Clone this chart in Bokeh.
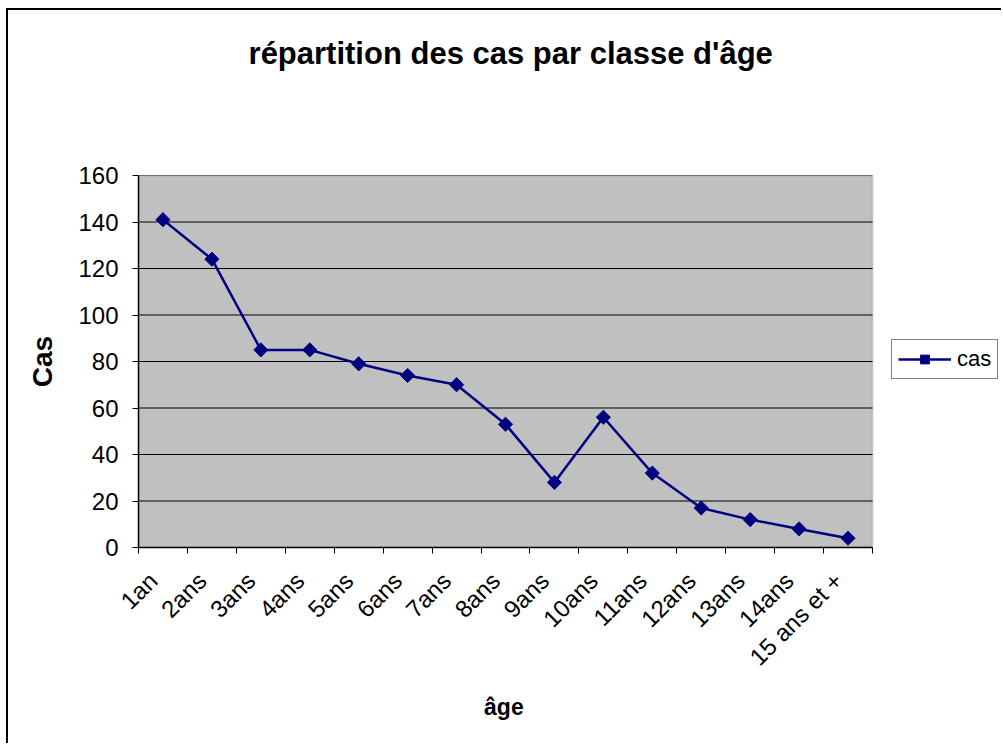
import math
from bokeh.plotting import figure
from bokeh.models import (Range1d, LinearAxis, FixedTicker, BoxAnnotation,
                          Legend, LegendItem)
from bokeh.embed import file_html
from bokeh.resources import INLINE

categories = ["1an", "2ans", "3ans", "4ans", "5ans", "6ans", "7ans", "8ans", "9ans",
              "10ans", "11ans", "12ans", "13ans", "14ans", "15 ans et +"]
cas = [141, 124, 85, 85, 79, 74, 70, 53, 28, 56, 32, 17, 12, 8, 4]
y_ticks = [0, 20, 40, 60, 80, 100, 120, 140, 160]
title_text = "répartition des cas par classe d'âge"
x_title = "âge"
y_title = "Cas"
series_name = "cas"

FONT = "Liberation Sans"
NAVY = "#000080"
LABEL_SHIFT = -0.2   # small layout nudge of rotated category labels
NBSP = "\u00a0"      # trailing padding to centre labels on the grey area, not the whole frame

# layout (pixels)
FIG_W, FIG_H = 995, 735
B_LEFT, B_TOP, B_BOTTOM = 130, 165, 198
AREA_W = 734                       # width of the grey plotting area
FRAME_W = FIG_W - B_LEFT           # frame runs to the right edge (legend lives inside it)

n = len(categories)
x_centers = [i + 0.5 for i in range(n)]       # category slot centres
x_edges = list(range(n + 1))                   # category slot boundaries
label_pos = [c + LABEL_SHIFT for c in x_centers]

p = figure(width=FIG_W, height=FIG_H,
           x_range=Range1d(0, n * FRAME_W / AREA_W),
           y_range=Range1d(y_ticks[0], y_ticks[-1]),
           x_axis_type=None, y_axis_type=None,
           output_backend="svg", toolbar_location=None,
           min_border_left=B_LEFT, min_border_right=0,
           min_border_top=B_TOP, min_border_bottom=B_BOTTOM)
p.styles = {"border-left": "2px solid black", "border-top": "2px solid black",
            "margin-left": "6px", "margin-top": "8px"}
p.background_fill_color = "white"
p.border_fill_color = "white"
p.outline_line_color = None

# grey plot area
p.add_layout(BoxAnnotation(left=0, right=n, bottom=y_ticks[0], top=y_ticks[-1],
                           fill_color="#C0C0C0", fill_alpha=1,
                           line_color="#808080", line_width=2, level="underlay"))
# horizontal gridlines across the plot area only
p.segment(x0=[0] * len(y_ticks), x1=[n] * len(y_ticks), y0=y_ticks, y1=y_ticks,
          line_color="black", line_width=1)

# title as an above-axis label
title_axis = LinearAxis(ticker=FixedTicker(ticks=[]), axis_label=title_text + NBSP * 14,
                        bounds=(0, n))
title_axis.axis_line_color = None
title_axis.major_tick_line_color = None
title_axis.minor_tick_line_color = None
title_axis.major_label_text_font_size = "0px"
title_axis.axis_label_text_font = FONT
title_axis.axis_label_text_font_size = "31px"
title_axis.axis_label_text_font_style = "bold"
title_axis.axis_label_text_color = "black"
title_axis.axis_label_standoff = 105
p.add_layout(title_axis, "above")

# y axis
yaxis = LinearAxis(ticker=FixedTicker(ticks=y_ticks), axis_label=y_title)
yaxis.major_label_text_font = FONT
yaxis.major_label_text_font_size = "24px"
yaxis.major_label_text_color = "black"
yaxis.major_tick_out = 6
yaxis.major_tick_in = 0
yaxis.minor_tick_line_color = None
yaxis.axis_line_color = "black"
yaxis.axis_line_width = 1.5
yaxis.major_tick_line_color = "black"
yaxis.major_label_standoff = 14
yaxis.axis_label_text_font = FONT
yaxis.axis_label_text_font_size = "28px"
yaxis.axis_label_text_font_style = "bold"
yaxis.axis_label_text_color = "black"
yaxis.axis_label_standoff = 17
p.add_layout(yaxis, "left")

# x axis: tick marks at category boundaries
tick_axis = LinearAxis(ticker=FixedTicker(ticks=x_edges), bounds=(0, n))
tick_axis.major_label_text_font_size = "0px"
tick_axis.major_label_standoff = 0
tick_axis.major_tick_out = 6
tick_axis.major_tick_in = 0
tick_axis.minor_tick_line_color = None
tick_axis.axis_line_color = "black"
tick_axis.axis_line_width = 1.5
p.add_layout(tick_axis, "below")

# x axis: category labels at slot centres
cat_axis = LinearAxis(ticker=FixedTicker(ticks=label_pos), bounds=(0, n),
                      major_label_overrides={c: lab for c, lab in zip(label_pos, categories)},
                      axis_label=x_title + NBSP * 21)
cat_axis.major_tick_line_color = None
cat_axis.minor_tick_line_color = None
cat_axis.axis_line_color = None
cat_axis.major_label_orientation = math.pi / 4
cat_axis.major_label_text_font = FONT
cat_axis.major_label_text_font_size = "24px"
cat_axis.major_label_text_color = "black"
cat_axis.major_label_standoff = 17
cat_axis.axis_label_text_font = FONT
cat_axis.axis_label_text_font_size = "23px"
cat_axis.axis_label_text_font_style = "bold"
cat_axis.axis_label_text_color = "black"
cat_axis.axis_label_standoff = 11
p.add_layout(cat_axis, "below")

line_r = p.line(x=x_centers, y=cas, line_color=NAVY, line_width=2.5)
pts_r = p.scatter(x=x_centers, y=cas, marker="square", angle=math.pi / 4, size=10,
                  fill_color=NAVY, line_color=NAVY)

legend = Legend(items=[LegendItem(label=series_name, renderers=[line_r, pts_r])],
                location=(753, 168))
legend.label_text_font = FONT
legend.label_text_font_size = "22px"
legend.label_text_color = "black"
legend.border_line_color = "black"
legend.border_line_width = 1
legend.background_fill_color = "white"
legend.background_fill_alpha = 1
legend.glyph_width = 53
legend.glyph_height = 22
legend.label_standoff = 6
legend.padding = 6
legend.margin = 0
p.add_layout(legend, "center")

open("out.html", "w").write(file_html(p, INLINE))
